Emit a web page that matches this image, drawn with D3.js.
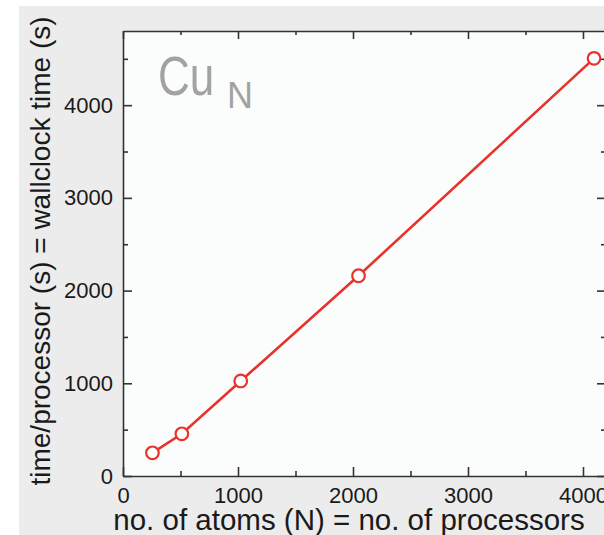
<!DOCTYPE html>
<html>
<head>
<meta charset="utf-8">
<script src="https://cdn.jsdelivr.net/npm/d3@7"></script>
<style>
  html, body { margin: 0; padding: 0; background: #ffffff; }
  svg { display: block; }
  text { font-family: "Liberation Sans", Arial, Helvetica, sans-serif; }
</style>
</head>
<body>
<script>
// Wallclock time per processor for Cu_N clusters (one atom per processor)
const atoms = [256, 512, 1024, 2048, 4096];
const wallTime = [250, 455, 1025, 2160, 4505];
const xMajorTicks = [0, 1000, 2000, 3000, 4000];
const xMinorTicks = [500, 1500, 2500, 3500];
const yMajorTicks = [0, 1000, 2000, 3000, 4000];
const yMinorTicks = [500, 1500, 2500, 3500, 4500];

const W = 604, H = 535;
const plot = { left: 123, top: 31, right: 606, bottom: 476 };
const lineColor = "#e8332b";
const axisColor = "#333333";

const svg = d3.select("body").append("svg")
  .attr("width", W).attr("height", H);

// panel background
svg.append("rect")
  .attr("x", 19).attr("y", 6)
  .attr("width", W - 19).attr("height", H - 6)
  .attr("fill", "#ececec");

svg.append("rect")
  .attr("x", plot.left).attr("y", plot.top)
  .attr("width", plot.right - plot.left).attr("height", plot.bottom - plot.top)
  .attr("fill", "#fbfdfd");

const x = d3.scaleLinear().domain([0, 4200]).range([plot.left, plot.right]);
const y = d3.scaleLinear().domain([0, 4800]).range([plot.bottom, plot.top]);

function styleAxis(g, fontSize) {
  g.selectAll("path.domain").attr("stroke", axisColor).attr("stroke-width", 1.6);
  g.selectAll(".tick line").attr("stroke", axisColor).attr("stroke-width", 1.6);
  g.selectAll(".tick text")
    .attr("fill", "#1a1a1a")
    .style("font-size", fontSize + "px")
    .style("font-family", "'Liberation Sans', Arial, sans-serif");
}

// bottom axis (ticks pointing inward)
const gB = svg.append("g").attr("transform", `translate(0,${plot.bottom})`)
  .call(d3.axisBottom(x).tickValues(xMajorTicks).tickSizeInner(-9).tickSizeOuter(0).tickPadding(11).tickFormat(d3.format("d")));
styleAxis(gB, 22);
const gBm = svg.append("g").attr("transform", `translate(0,${plot.bottom})`)
  .call(d3.axisBottom(x).tickValues(xMinorTicks).tickSizeInner(-5).tickSizeOuter(0).tickFormat(""));
styleAxis(gBm, 22);
gBm.select("path.domain").remove();

// top axis
const gT = svg.append("g").attr("transform", `translate(0,${plot.top})`)
  .call(d3.axisTop(x).tickValues(xMajorTicks).tickSizeInner(-8).tickSizeOuter(0).tickFormat(""));
styleAxis(gT, 22);
const gTm = svg.append("g").attr("transform", `translate(0,${plot.top})`)
  .call(d3.axisTop(x).tickValues(xMinorTicks).tickSizeInner(-4).tickSizeOuter(0).tickFormat(""));
styleAxis(gTm, 22);
gTm.select("path.domain").remove();

// left axis
const gL = svg.append("g").attr("transform", `translate(${plot.left},0)`)
  .call(d3.axisLeft(y).tickValues(yMajorTicks).tickSizeInner(-9).tickSizeOuter(0).tickPadding(10).tickFormat(d3.format("d")));
styleAxis(gL, 22);
const gLm = svg.append("g").attr("transform", `translate(${plot.left},0)`)
  .call(d3.axisLeft(y).tickValues(yMinorTicks).tickSizeInner(-5).tickSizeOuter(0).tickFormat(""));
styleAxis(gLm, 22);
gLm.select("path.domain").remove();

// right axis
const gR = svg.append("g").attr("transform", `translate(${plot.right},0)`)
  .call(d3.axisRight(y).tickValues(yMajorTicks).tickSizeInner(-9).tickSizeOuter(0).tickFormat(""));
styleAxis(gR, 22);
const gRm = svg.append("g").attr("transform", `translate(${plot.right},0)`)
  .call(d3.axisRight(y).tickValues(yMinorTicks).tickSizeInner(-5).tickSizeOuter(0).tickFormat(""));
styleAxis(gRm, 22);
gRm.select("path.domain").remove();

// data line and markers
const data = atoms.map((n, i) => ({ n, t: wallTime[i] }));
svg.append("path")
  .datum(data)
  .attr("fill", "none")
  .attr("stroke", lineColor)
  .attr("stroke-width", 2.6)
  .attr("d", d3.line().x(d => x(d.n)).y(d => y(d.t)));

svg.selectAll("circle.pt")
  .data(data)
  .join("circle")
  .attr("class", "pt")
  .attr("cx", d => x(d.n))
  .attr("cy", d => y(d.t))
  .attr("r", 6.3)
  .attr("fill", "#ffffff")
  .attr("stroke", lineColor)
  .attr("stroke-width", 2.2);

// Cu_N label
svg.append("text")
  .attr("transform", "translate(158,95) scale(0.8,1)")
  .attr("fill", "#a2a2a2")
  .style("font-size", "55px")
  .text("Cu");
svg.append("text")
  .attr("x", 227).attr("y", 108)
  .attr("fill", "#a2a2a2")
  .style("font-size", "36px")
  .text("N");

// axis titles
svg.append("text")
  .attr("transform", `translate(50,251) rotate(-90)`)
  .attr("text-anchor", "middle")
  .attr("fill", "#1a1a1a")
  .style("font-size", "28px")
  .text("time/processor (s) = wallclock time (s)");

svg.append("text")
  .attr("x", 349).attr("y", 530)
  .attr("text-anchor", "middle")
  .attr("fill", "#1a1a1a")
  .style("font-size", "29.5px")
  .text("no. of atoms (N) = no. of processors");
</script>
</body>
</html>
